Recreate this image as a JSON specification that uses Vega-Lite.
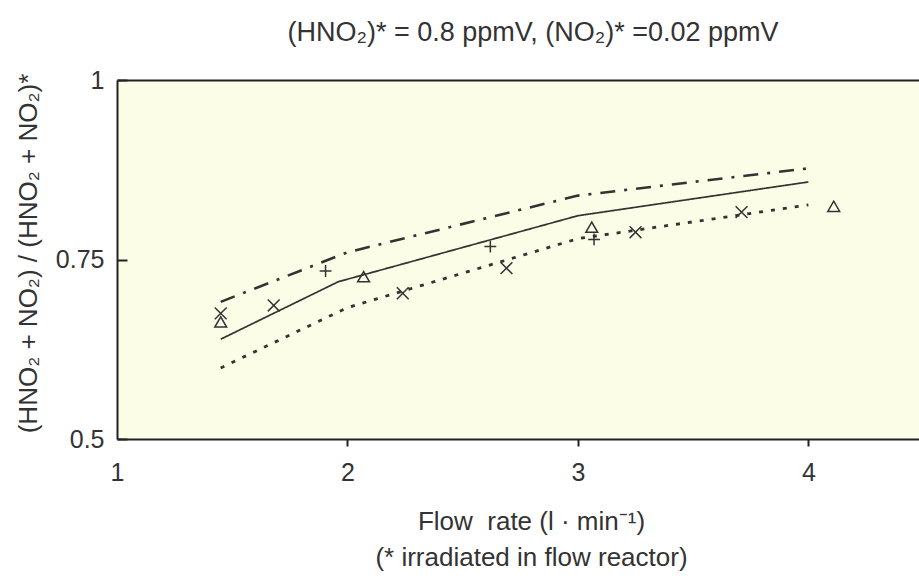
{
  "$schema": "https://vega.github.io/schema/vega-lite/v6.json",
  "width": 802,
  "height": 359,
  "autosize": "none",
  "padding": {"left": 117, "top": 80, "right": 0, "bottom": 137},
  "background": "white",
  "config": {
    "view": {"fill": "#fbfde6", "stroke": null},
    "font": "Liberation Sans",
    "axis": {"grid": false}
  },
  "title": {
    "text": "(HNO₂)* = 0.8 ppmV, (NO₂)* =0.02 ppmV",
    "fontSize": 27,
    "fontWeight": "normal",
    "color": "#333333",
    "anchor": "middle",
    "baseline": "alphabetic",
    "dx": 15,
    "offset": 0
  },
  "datasets": {
    "curves": [
      {"flow": 1.45, "ratio": 0.691, "series": "upper"},
      {"flow": 2.0, "ratio": 0.760, "series": "upper"},
      {"flow": 3.0, "ratio": 0.839, "series": "upper"},
      {"flow": 4.0, "ratio": 0.877, "series": "upper"},
      {"flow": 1.45, "ratio": 0.639, "series": "middle"},
      {"flow": 1.96, "ratio": 0.719, "series": "middle"},
      {"flow": 3.0, "ratio": 0.811, "series": "middle"},
      {"flow": 4.0, "ratio": 0.858, "series": "middle"},
      {"flow": 1.45, "ratio": 0.599, "series": "lower"},
      {"flow": 2.0, "ratio": 0.683, "series": "lower"},
      {"flow": 3.0, "ratio": 0.779, "series": "lower"},
      {"flow": 4.0, "ratio": 0.826, "series": "lower"}
    ],
    "measured": [
      {"flow": 1.45, "ratio": 0.663, "marker": "triangle"},
      {"flow": 2.07, "ratio": 0.726, "marker": "triangle"},
      {"flow": 3.06, "ratio": 0.795, "marker": "triangle"},
      {"flow": 4.11, "ratio": 0.824, "marker": "triangle"},
      {"flow": 1.905, "ratio": 0.734, "marker": "plus"},
      {"flow": 2.62, "ratio": 0.768, "marker": "plus"},
      {"flow": 3.07, "ratio": 0.778, "marker": "plus"},
      {"flow": 1.45, "ratio": 0.675, "marker": "cross"},
      {"flow": 1.68, "ratio": 0.686, "marker": "cross"},
      {"flow": 2.24, "ratio": 0.703, "marker": "cross"},
      {"flow": 2.69, "ratio": 0.738, "marker": "cross"},
      {"flow": 3.25, "ratio": 0.788, "marker": "cross"},
      {"flow": 3.71, "ratio": 0.816, "marker": "cross"}
    ]
  },
  "layer": [
    {
      "data": {"name": "curves"},
      "mark": {"type": "line", "color": "#333333"},
      "encoding": {
        "x": {
          "field": "flow", "type": "quantitative",
          "scale": {"domain": [1, 4.48], "nice": false, "zero": false},
          "axis": {
            "orient": "bottom",
            "values": [1, 2, 3, 4],
            "format": "d",
            "title": ["Flow\u00a0 rate (l · min⁻¹)", "(* irradiated in flow reactor)"],
            "titleFontSize": 26,
            "titleFontWeight": "normal",
            "titleColor": "#333333",
            "titleLineHeight": 36,
            "titleX": 414,
            "titleY": 69,
            "titleBaseline": "top",
            "titleAnchor": "middle",
            "labelFontSize": 25,
            "labelColor": "#333333",
            "labelPadding": 14,
            "labelFlush": false,
            "tickSize": 7,
            "tickWidth": 2,
            "tickColor": "#222222",
            "tickOpacity": {"condition": {"test": "datum.value == 1", "value": 0}, "value": 1},
            "domainColor": "#222222",
            "domainWidth": 2
          }
        },
        "y": {
          "field": "ratio", "type": "quantitative",
          "scale": {"domain": [0.5, 1], "nice": false, "zero": false},
          "axis": {
            "orient": "left",
            "values": [0.5, 0.75, 1],
            "format": "~g",
            "title": "(HNO₂ + NO₂) / (HNO₂ + NO₂)*",
            "titleFontSize": 26,
            "titleFontWeight": "normal",
            "titleColor": "#333333",
            "titleAngle": -90,
            "titleBaseline": "middle",
            "titleX": -89,
            "titleY": 173,
            "titleAnchor": "middle",
            "labelFontSize": 25,
            "labelColor": "#333333",
            "labelPadding": 23,
            "labelFlush": false,
            "tickSize": -10,
            "tickWidth": 2,
            "tickColor": "#222222",
            "domainColor": "#222222",
            "domainWidth": 2
          }
        },
        "strokeDash": {
          "field": "series", "type": "nominal",
          "scale": {"domain": ["upper", "middle", "lower"], "range": [[15, 9, 3, 9], [1, 0], [4, 8]]},
          "legend": null
        },
        "strokeWidth": {
          "field": "series", "type": "nominal",
          "scale": {"type": "ordinal", "domain": ["upper", "middle", "lower"], "range": [2.6, 1.7, 2.8]},
          "legend": null
        }
      }
    },
    {
      "data": {"name": "measured"},
      "mark": {"type": "point", "filled": false, "color": "#333333", "strokeWidth": 1.5, "size": 140, "opacity": 1},
      "encoding": {
        "x": {
          "field": "flow", "type": "quantitative",
          "axis": {"orient": "top", "labels": false, "ticks": false, "title": null, "domainColor": "#222222", "domainWidth": 2}
        },
        "y": {"field": "ratio", "type": "quantitative"},
        "shape": {
          "field": "marker", "type": "nominal",
          "scale": {"domain": ["triangle", "plus", "cross"], "range": ["triangle-up", "M-1,0L1,0M0,-1L0,1", "M-1,-1L1,1M-1,1L1,-1"]},
          "legend": null
        }
      }
    }
  ],
  "resolve": {"axis": {"x": "independent"}}
}
